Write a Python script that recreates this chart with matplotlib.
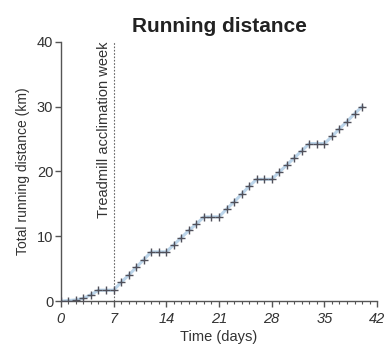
import matplotlib
matplotlib.use("Agg")
import matplotlib.pyplot as plt
from matplotlib.ticker import MultipleLocator

plt.rcParams['font.family'] = ['Liberation Sans', 'DejaVu Sans']

days = list(range(0, 41))
distance = [0, 0.1, 0.2, 0.45, 1.0, 1.7, 1.7, 1.7,
            2.9, 4.0, 5.2, 6.4, 7.6, 7.6, 7.6,
            8.7, 9.8, 10.9, 11.9, 13.0, 13.0, 13.0,
            14.2, 15.3, 16.5, 17.7, 18.8, 18.8, 18.8,
            19.9, 21.0, 22.1, 23.2, 24.3, 24.3, 24.3,
            25.4, 26.6, 27.7, 28.9, 30.0]
x_ticks = [0, 7, 14, 21, 28, 35, 42]
y_ticks = [0, 10, 20, 30, 40]
acclimation_day = 7

fig = plt.figure(figsize=(3.9, 3.45), dpi=100)
ax = fig.add_axes([0.156, 0.127, 0.811, 0.752])

ax.plot(days, distance, color='#bcd5ea', lw=2.2, zorder=2)
ax.plot(days, distance, linestyle='none', marker='+', markersize=5.5,
        markeredgewidth=1.0, color='#50505a', zorder=3)

ax.axvline(acclimation_day, color='#666666', lw=0.8, linestyle=(0, (1.5, 1.5)), zorder=1)
ax.text(acclimation_day - 0.4, 40, 'Treadmill acclimation week', rotation=90,
        ha='right', va='top', fontsize=10.5, color='#333333')

ax.set_xlim(0, 42)
ax.set_ylim(0, 40)
ax.set_xticks(x_ticks)
ax.set_yticks(y_ticks)
ax.xaxis.set_minor_locator(MultipleLocator(1))
for lab in ax.get_xticklabels():
    lab.set_fontstyle('italic')

for s in ['top', 'right']:
    ax.spines[s].set_visible(False)
for s in ['left', 'bottom']:
    ax.spines[s].set_color('#555555')
    ax.spines[s].set_linewidth(1.0)

ax.tick_params(axis='both', which='major', direction='out', length=4, width=1,
               color='#555555', labelsize=10.5, labelcolor='#333333')
ax.tick_params(axis='x', which='major', pad=4)
ax.tick_params(axis='y', which='major', pad=1.5)
ax.tick_params(axis='x', which='minor', direction='out', length=2, width=0.8, color='#555555')

ax.set_xlabel('Time (days)', fontsize=10.5, color='#333333', labelpad=3)
ax.set_ylabel('Total running distance (km)', fontsize=10, color='#333333', labelpad=5)
ax.set_title('Running distance', fontsize=15, fontweight='bold', color='#222222', pad=7)

fig.savefig('out.png', dpi=100)
